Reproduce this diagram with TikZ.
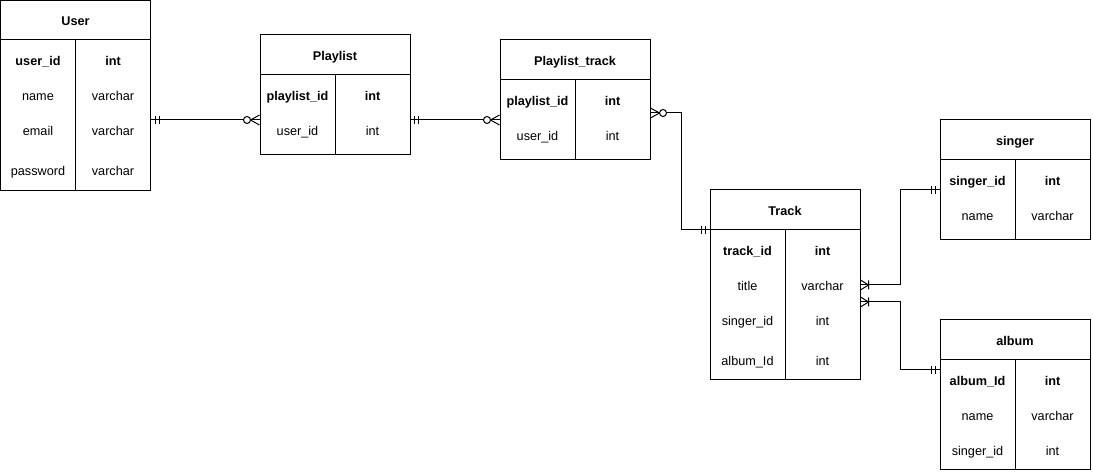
\documentclass[tikz,border=0pt]{standalone}
\usepackage{fontspec}
\setmainfont{Liberation Sans}
\usetikzlibrary{calc}
\tikzset{
  tbl/.style={draw, line width=0.75pt, minimum width=112.5pt, inner sep=0pt, fill=white},
  txt/.style={inner sep=1pt, text height=6.8pt, text depth=2pt},
  hdr/.style={txt, font=\fontsize{9.5}{11}\selectfont\bfseries},
  fb/.style={txt, font=\fontsize{9.5}{11}\selectfont\bfseries},
  fn/.style={txt, font=\fontsize{9.5}{11}\selectfont},
  conn/.style={line width=0.75pt},
  mone/.pic={\draw[line width=0.75pt] (4,-4)--(4,4) (8,-4)--(8,4);},
  zmany/.pic={\draw[line width=0.75pt] (0,-5)--(9,0)--(0,5);
              \draw[line width=0.75pt, fill=white] (12.5,0) circle[radius=3.5];},
  omany/.pic={\draw[line width=0.75pt] (0,-5)--(8,0)--(0,5) (8,-4.5)--(8,4.5);},
}
\newcommand{\ertable}[5]{% name, x, y, height, title
  \node[tbl, minimum height=#4*0.75pt] (#1) at (#2+75,#3+#4/2) {};
  \draw[line width=0.75pt] ($(#1.north west)+(0,40)$) -- ($(#1.north east)+(0,40)$);
  \draw[line width=0.75pt] ($(#1.north)+(0,40)$) -- (#1.south);
  \node[hdr] (#1-t) at (#2+75,#3+22) {#5};
}
\newcommand{\erow}[6]{% prefix, table x, y, left, right, style
  \node[#6] (#1a) at (#2+37.5,#3+2.5) {#4};
  \node[#6] (#1b) at (#2+112.5,#3+2.5) {#5};
}
\begin{document}
\begin{tikzpicture}[x=0.75pt,y=-0.75pt]
\useasboundingbox (0,0) rectangle (1093,473);
\fill[white] (0,0) rectangle (1093,473);

% User
\ertable{user}{0.5}{0.5}{190}{User}
\erow{u1}{0.5}{60}{user\_id}{int}{fb}
\erow{u2}{0.5}{95}{name}{varchar}{fn}
\erow{u3}{0.5}{130}{email}{varchar}{fn}
\erow{u4}{0.5}{170}{password}{varchar}{fn}

% Playlist
\ertable{pl}{260}{35}{120}{Playlist}
\erow{p1}{260}{95}{playlist\_id}{int}{fb}
\erow{p2}{260}{130}{user\_id}{int}{fn}

% Playlist_track
\ertable{pt}{500}{40}{120}{Playlist\_track}
\erow{t1}{500}{100}{playlist\_id}{int}{fb}
\erow{t2}{500}{135}{user\_id}{int}{fn}

% singer
\ertable{sg}{940}{120}{120}{singer}
\erow{s1}{940}{180}{singer\_id}{int}{fb}
\erow{s2}{940}{215}{name}{varchar}{fn}

% Track
\ertable{tr}{710}{190}{190}{Track}
\erow{r1}{710}{250}{track\_id}{int}{fb}
\erow{r2}{710}{285}{title}{varchar}{fn}
\erow{r3}{710}{320}{singer\_id}{int}{fn}
\erow{r4}{710}{360}{album\_Id}{int}{fn}

% album
\ertable{al}{940}{320}{150}{album}
\erow{a1}{940}{380}{album\_Id}{int}{fb}
\erow{a2}{940}{415}{name}{varchar}{fn}
\erow{a3}{940}{450}{singer\_id}{int}{fn}

% connector end points
\coordinate (c1a) at (user.east |- 0,120);
\coordinate (c1b) at (pl.west |- 0,120);
\coordinate (c2a) at (pl.east |- 0,120);
\coordinate (c2b) at (pt.west |- 0,120);
\coordinate (c3a) at (pt.east |- 0,113);
\coordinate (c3b) at (tr.west |- 0,230);
\coordinate (c4a) at (tr.east |- 0,285);
\coordinate (c4b) at (sg.west |- 0,190);
\coordinate (c5a) at (tr.east |- 0,302);
\coordinate (c5b) at (al.west |- 0,370);

% connectors
\draw[conn] (c1a) -- (c1b);
\draw[conn] (c2a) -- (c2b);
\draw[conn] (c3a) -- (681,113) |- (c3b);
\draw[conn] (c4a) -- (900,285) |- (c4b);
\draw[conn] (c5a) -- (900,302) |- (c5b);

% ends
\pic at (c1a) {mone};
\pic[rotate=180] at (c1b) {zmany};
\pic at (c2a) {mone};
\pic[rotate=180] at (c2b) {zmany};
\pic at (c3a) {zmany};
\pic[rotate=180] at (c3b) {mone};
\pic at (c4a) {omany};
\pic[rotate=180] at (c4b) {mone};
\pic at (c5a) {omany};
\pic[rotate=180] at (c5b) {mone};
\end{tikzpicture}
\end{document}
